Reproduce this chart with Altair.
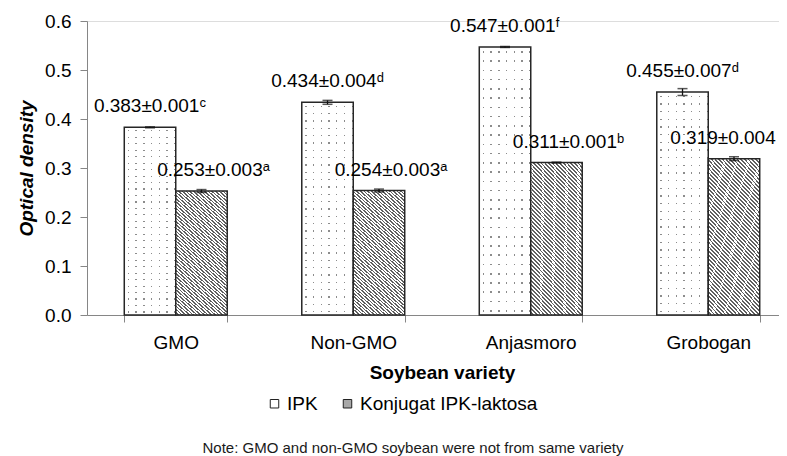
import altair as alt
import pandas as pd

# ---- data ----
varieties = ["GMO", "Non-GMO", "Anjasmoro", "Grobogan"]
series_names = ["IPK", "Konjugat IPK-laktosa"]
ipk_mean = [0.383, 0.434, 0.547, 0.455]
ipk_err = [0.001, 0.004, 0.001, 0.007]
ipk_sig = ["ᶜ", "ᵈ", "ᶠ", "ᵈ"]
konj_mean = [0.253, 0.254, 0.311, 0.319]
konj_err = [0.003, 0.003, 0.001, 0.004]
konj_sig = ["ᵃ", "ᵃ", "ᵇ", ""]
note_text = "Note: GMO and non-GMO soybean were not from same variety"

rows = []
for i, v in enumerate(varieties):
    rows.append(dict(variety=v, series=series_names[0], mean=ipk_mean[i], err=ipk_err[i],
                     label=f"{ipk_mean[i]:.3f}±{ipk_err[i]:.3f}{ipk_sig[i]}"))
    rows.append(dict(variety=v, series=series_names[1], mean=konj_mean[i], err=konj_err[i],
                     label=f"{konj_mean[i]:.3f}±{konj_err[i]:.3f}{konj_sig[i]}"))
df = pd.DataFrame(rows)
df["lo"] = df["mean"] - df["err"]
df["hi"] = df["mean"] + df["err"]

FONT = "Liberation Sans"

# ---- fill patterns (style only) ----
WHITE = "#ffffff"
CLEAR = "rgba(255,255,255,0)"
# diagonal hatch for the conjugate bars
n_hatch = 52
hatch_stops = []
for i in range(n_hatch):
    s, e = i / n_hatch, (i + 1) / n_hatch
    m = s + 0.55 / n_hatch
    hatch_stops += [{"offset": s, "color": WHITE}, {"offset": m, "color": WHITE},
                    {"offset": m, "color": "#606060"}, {"offset": e, "color": "#606060"}]
hatch_fill = {"gradient": "linear", "x1": 0, "y1": 1, "x2": 0.442, "y2": -0.2047,
              "stops": hatch_stops}

# dotted pattern for IPK bars: horizontal rows under a vertical mask
n_rows = 29
row_stops = []
for i in range(n_rows):
    s, e = i / n_rows, (i + 1) / n_rows
    a = s + 0.45 / n_rows
    b = a + 0.006
    row_stops += [{"offset": s, "color": WHITE}, {"offset": a, "color": WHITE},
                  {"offset": a, "color": "#8c8c8c"}, {"offset": b, "color": "#8c8c8c"},
                  {"offset": b, "color": WHITE}, {"offset": e, "color": WHITE}]
row_fill = {"gradient": "linear", "x1": 0, "y1": 0, "x2": 0, "y2": 1, "stops": row_stops}

col_stops = [{"offset": 0, "color": WHITE}]
for k in range(7):
    a = (3.4 + 7.67 * k) / 51
    b = a + 1.3 / 51
    col_stops += [{"offset": a, "color": WHITE}, {"offset": a, "color": CLEAR},
                  {"offset": b, "color": CLEAR}, {"offset": b, "color": WHITE}]
col_stops.append({"offset": 1, "color": WHITE})
col_fill = {"gradient": "linear", "x1": 0, "y1": 0, "x2": 1, "y2": 0, "stops": col_stops}

# ---- encodings ----
x_enc = alt.X("variety:N", sort=varieties,
              scale=alt.Scale(paddingInner=0.42, paddingOuter=0.21, range=[0, 710]),
              axis=alt.Axis(title="Soybean variety", labelAngle=0, labelFont=FONT,
                            labelFontSize=19, labelColor="#000000", labelPadding=11,
                            tickBand="extent", tickSize=7, tickColor="#868686",
                            domainColor="#868686", titleFont=FONT, titleFontSize=19,
                            titleFontWeight="bold", titleColor="#000000",
                            titleX=355, titleY=57, titleBaseline="middle"))
xo_enc = alt.XOffset("series:N", sort=series_names,
                     scale=alt.Scale(domain=series_names, paddingInner=0, paddingOuter=0))
y_enc = alt.Y("mean:Q", scale=alt.Scale(domain=[0, 0.6], nice=False),
              axis=alt.Axis(title="Optical density", values=[0, 0.1, 0.2, 0.3, 0.4, 0.5, 0.6],
                            format=".1f", grid=False, labelFont=FONT, labelFontSize=19,
                            labelColor="#000000", labelPadding=9, tickSize=7,
                            tickColor="#868686", domainColor="#868686", titleFont=FONT,
                            titleFontSize=19, titleFontWeight="bold",
                            titleFontStyle="italic", titleColor="#000000",
                            titleX=-61, titleY=147, titleAngle=-90,
                            titleBaseline="middle", titleAlign="center"))

base = alt.Chart(df)
ipk = base.transform_filter(alt.datum.series == series_names[0])
konj = base.transform_filter(alt.datum.series == series_names[1])

ipk_under = ipk.mark_bar(fill=row_fill, strokeWidth=0).encode(x=x_enc, xOffset=xo_enc, y=y_enc)
ipk_top = ipk.mark_bar(fill=col_fill, stroke="#262626", strokeWidth=1.5).encode(
    x=x_enc, xOffset=xo_enc, y=y_enc)
konj_bar = konj.mark_bar(fill=hatch_fill, stroke="#262626", strokeWidth=1.5).encode(
    x=x_enc, xOffset=xo_enc, y=y_enc)

legend_layer = base.mark_bar(opacity=0).encode(
    x=x_enc, xOffset=xo_enc, y=y_enc,
    color=alt.Color("series:N", sort=series_names,
                    scale=alt.Scale(domain=series_names, range=["#ffffff", "#a8a8a8"]),
                    legend=alt.Legend(title=None, orient="none", direction="horizontal",
                                      legendX=178, legendY=373, symbolType="square",
                                      symbolSize=72, symbolOpacity=1,
                                      symbolStrokeColor="#222222", symbolStrokeWidth=1,
                                      labelFont=FONT, labelFontSize=19, labelLimit=0,
                                      labelColor="#000000", labelOffset=3,
                                      columnPadding=20, padding=0)))

err_rule = base.mark_rule(color="#111111", strokeWidth=1.3).encode(
    x=x_enc, xOffset=xo_enc, y="lo:Q", y2="hi:Q")
err_lo = base.mark_tick(color="#111111", thickness=1.5, size=10).encode(
    x=x_enc, xOffset=xo_enc, y="lo:Q")
err_hi = base.mark_tick(color="#111111", thickness=1.5, size=10).encode(
    x=x_enc, xOffset=xo_enc, y="hi:Q")

lab_ipk = ipk.mark_text(font=FONT, fontSize=19, dy=-21, baseline="middle",
                        color="#000000").encode(x=x_enc, xOffset=xo_enc, y=y_enc, text="label:N")
lab_konj = konj.transform_filter(alt.datum.variety != varieties[3]).mark_text(
    font=FONT, fontSize=19, dy=-21, dx=12, baseline="middle", color="#000000").encode(
    x=x_enc, xOffset=xo_enc, y=y_enc, text="label:N")
lab_konj_last = konj.transform_filter(alt.datum.variety == varieties[3]).mark_text(
    font=FONT, fontSize=19, dy=-21, dx=-11, baseline="middle", color="#000000").encode(
    x=x_enc, xOffset=xo_enc, y=y_enc, text="label:N")

note = alt.Chart(pd.DataFrame({"note": [note_text]})).mark_text(
    font=FONT, fontSize=15, color="#1a1a1a", baseline="middle", align="center").encode(
    x=alt.value(326), y=alt.value(427), text="note:N")

chart = alt.layer(
    ipk_under, ipk_top, konj_bar, legend_layer, err_rule, err_lo, err_hi,
    lab_ipk, lab_konj, lab_konj_last, note
).properties(
    width=692, height=294,
    autosize=alt.AutoSizeParams(type="none"),
    padding={"left": 79, "top": 13, "right": 0, "bottom": 145},
).configure_view(stroke=None).configure(background="white")

chart.save("out.html", embed_options={"renderer": "svg", "actions": False})
